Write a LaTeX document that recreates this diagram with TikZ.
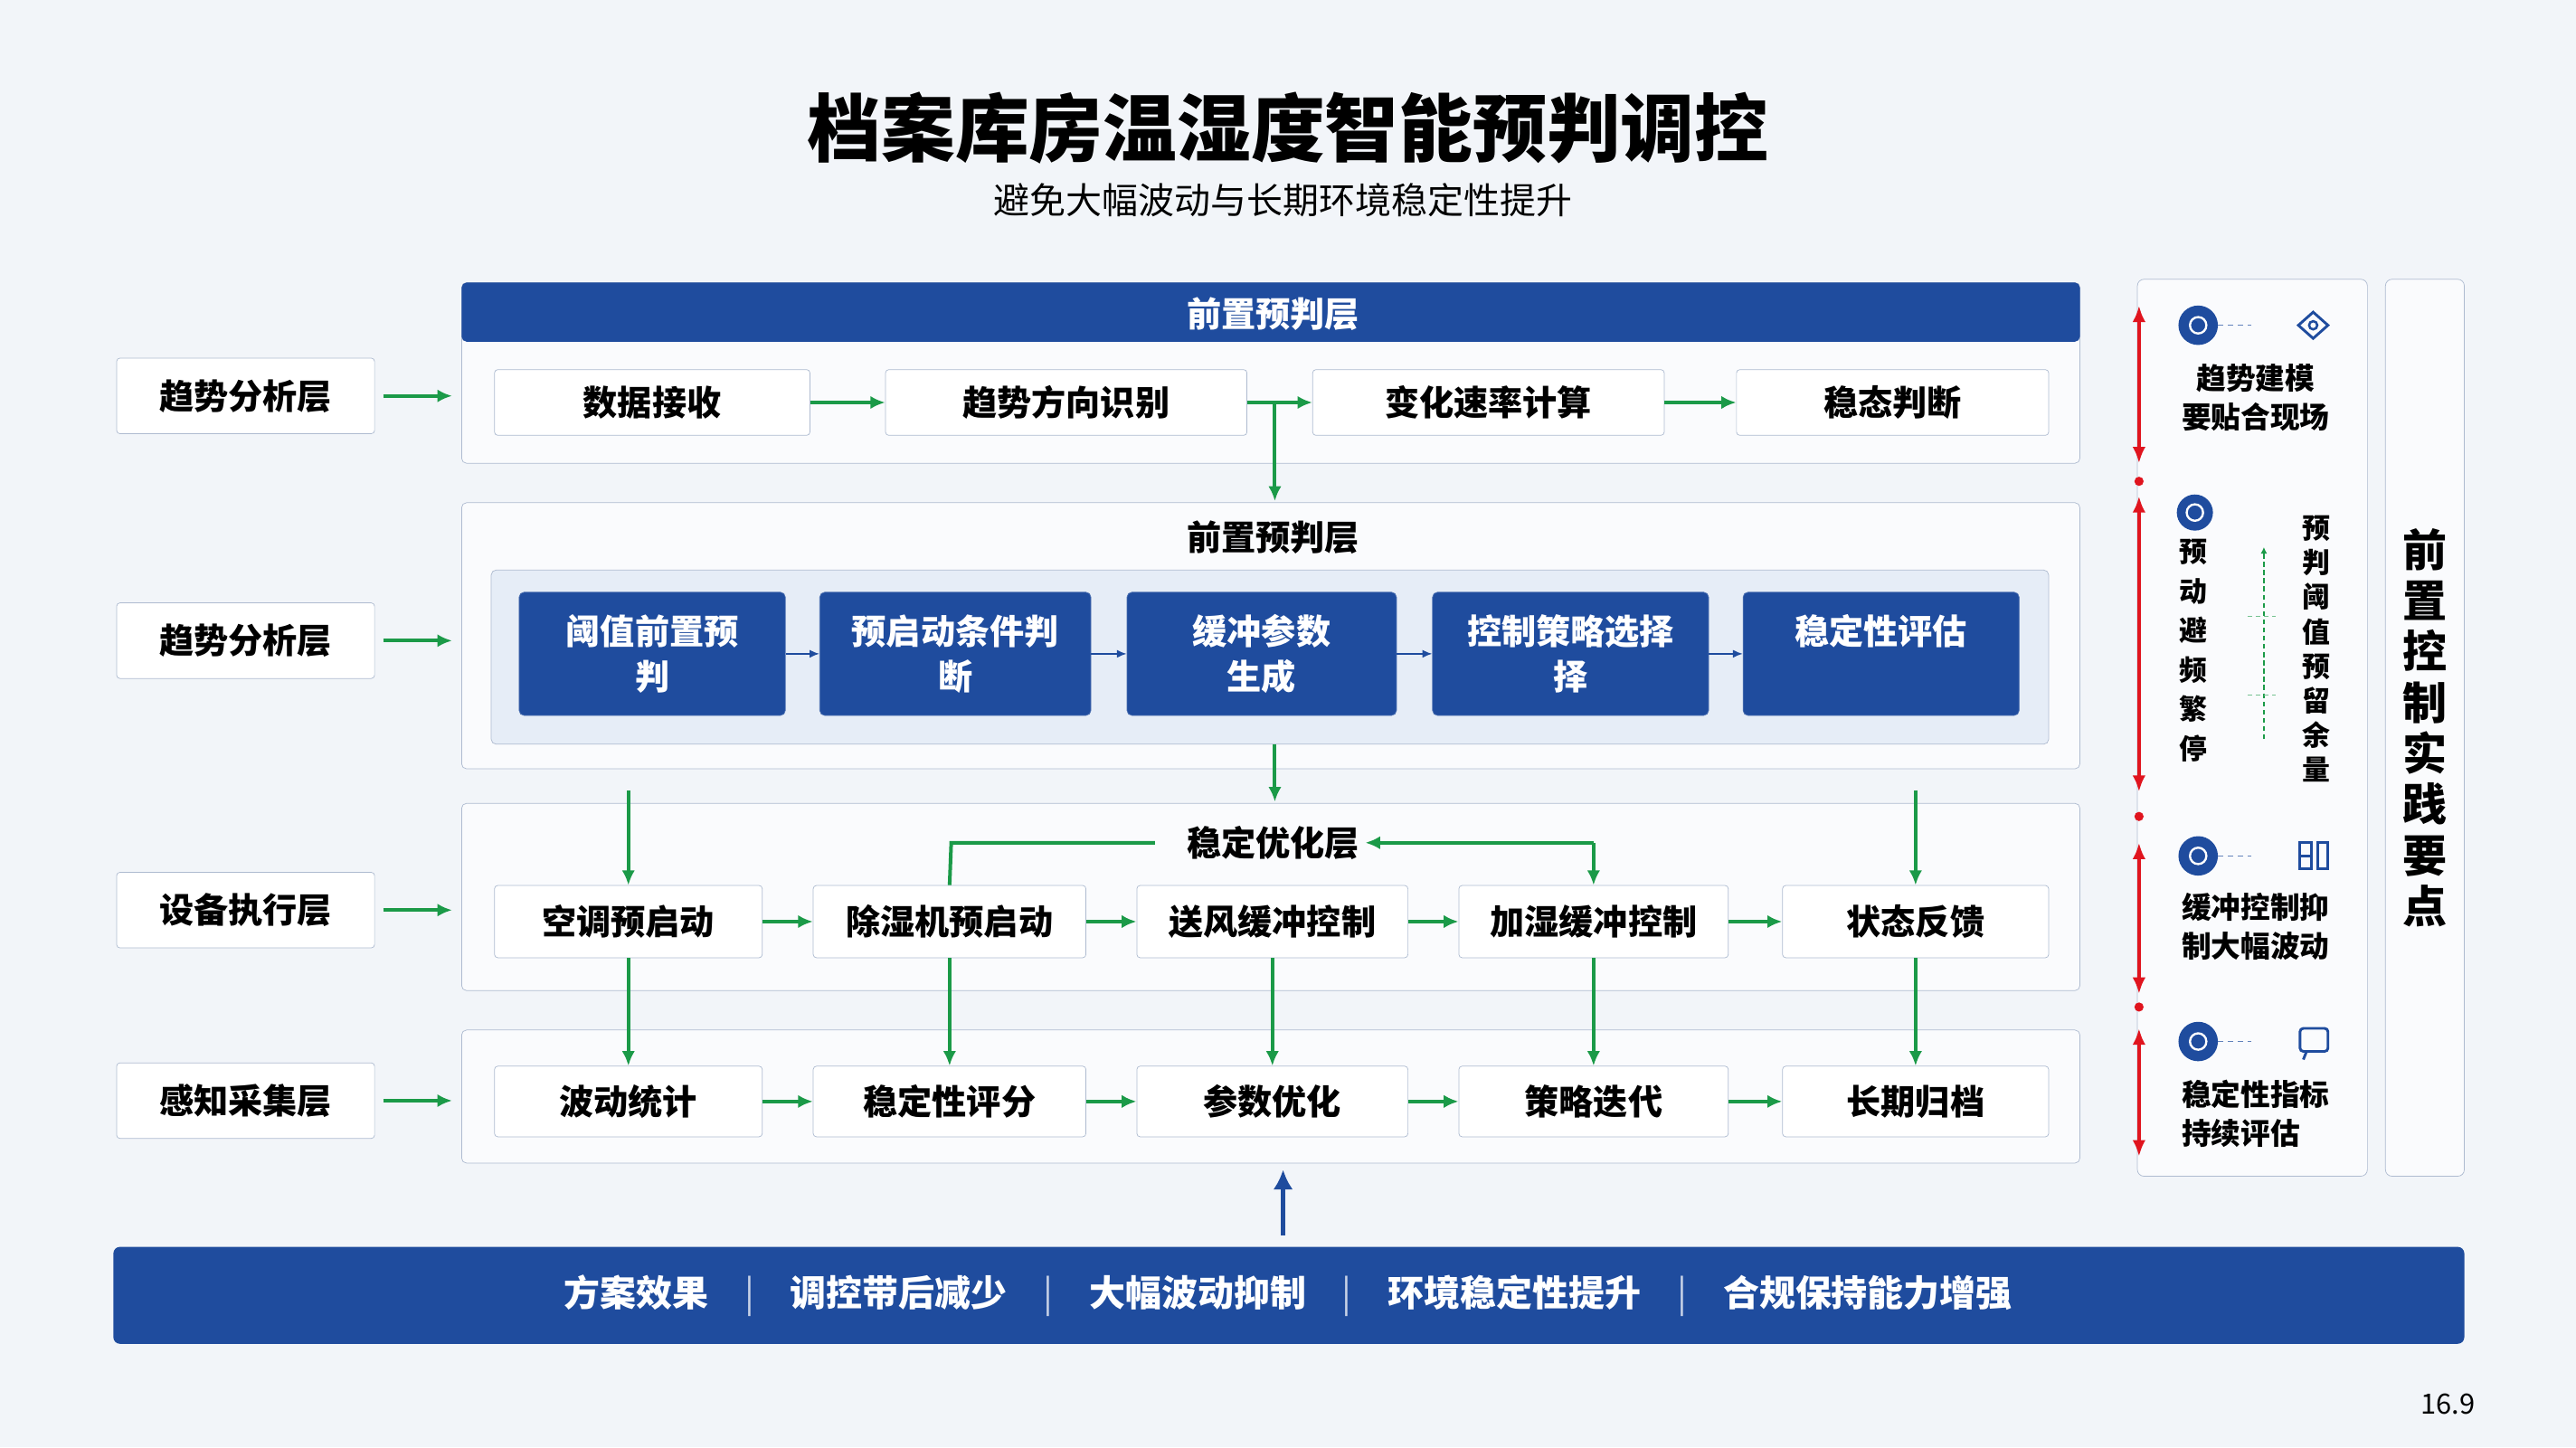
\documentclass[tikz,border=0pt]{standalone}
\usepackage{fontspec}
\setmainfont{Noto Sans CJK SC}
\usetikzlibrary{arrows.meta, positioning}
\definecolor{navy}{HTML}{1F4C9E}
\definecolor{frame}{HTML}{AEBBD0}
\definecolor{okgreen}{HTML}{1B9A48}
\definecolor{paper}{HTML}{F2F5F9}
\definecolor{pale}{HTML}{E6EDF7}
\definecolor{alarm}{HTML}{E0141E}
\newcommand\fs[1]{\fontsize{#1}{1.3\dimexpr#1pt\relax}\selectfont\bfseries}
\newcommand\fsv[2]{\fontsize{#1}{#2}\selectfont\bfseries}
\tikzset{
  box/.style={draw=frame, fill=white, rounded corners=2, minimum height=40, inner sep=0, font=\fs{21}},
  side/.style={box, minimum width=157, minimum height=46},
  stage/.style={draw=navy!80, fill=navy, rounded corners=3, text=white, minimum height=75, inner sep=0,
    font=\fs{21}, align=center, anchor=center},
  panel/.style={draw=frame, fill=white!60!paper, rounded corners=3, minimum width=985, inner sep=0},
  flow/.style={-{Latex[length=9,width=8]}, okgreen, line width=2.2},
  thin/.style={-{Latex[length=6,width=5]}, navy, line width=1},
  span/.style={{Latex[length=10,width=8]}-{Latex[length=10,width=8]}, alarm, line width=2},
  pin/.style={circle, fill=navy, minimum size=24, inner sep=0},
}
\begin{document}
\begin{tikzpicture}[x=1pt, y=-1pt]
  \fill[paper] (0,0) rectangle (1568,881);
  \useasboundingbox (0,0) rectangle (1568,881);
  % title
  \node (title) at (784,78) {\fs{45}档案库房温湿度智能预判调控};
  \node (subtitle) at (781,122) {\fontsize{22}{22}\selectfont 避免大幅波动与长期环境稳定性提升};

  % containers
  \node[panel, minimum height=110] (c1) at (773.5,227) {};
  \fill[navy, rounded corners=3] (281,172) rectangle (1266,208);
  \node[text=white, font=\fs{21}] (h1) at (775,191) {前置预判层};
  \node[panel, minimum height=162] (c2) at (773.5,387) {};
  \node[font=\fs{21}] (h2) at (775,327) {前置预判层};
  \node[draw=frame, fill=pale, rounded corners=3, minimum width=948, minimum height=106, inner sep=0] (c2in) at (773,400) {};
  \node[panel, minimum height=114] (c3) at (773.5,546) {};
  \node[font=\fs{21}] (h3) at (775,513) {稳定优化层};
  \node[panel, minimum height=81] (c4) at (773.5,667.5) {};

  % left layer labels
  \node[side] (l1) at (149.5,241) {趋势分析层};
  \node[side] (l2) at (149.5,390) {趋势分析层};
  \node[side] (l3) at (149.5,554) {设备执行层};
  \node[side] (l4) at (149.5,670) {感知采集层};
  \foreach \l in {l1,l2,l3,l4}
    \draw[flow] (\l.east) ++(5,0) -- ++(42,0);

  % layer 1
  \node[box, minimum width=192] (a1) at (397,245) {数据接收};
  \node[box, minimum width=220] (a2) at (649,245) {趋势方向识别};
  \node[box, minimum width=214] (a3) at (906,245) {变化速率计算};
  \node[box, minimum width=190] (a4) at (1152,245) {稳态判断};
  \draw[flow] (a1) -- (a2);
  \draw[flow] (a2) -- (a3);
  \draw[flow] (a3) -- (a4);
  \draw[flow] (776,245) -- (776,305);

  % layer 2
  \node[stage, minimum width=162] (b1) at (397,398) {阈值前置预\\判};
  \node[stage, minimum width=165] (b2) at (581.5,398) {预启动条件判\\断};
  \node[stage, minimum width=164] (b3) at (768,398) {缓冲参数\\生成};
  \node[stage, minimum width=168] (b4) at (956,398) {控制策略选择\\择};
  \node[stage, minimum width=168] (b5) at (1145,398) {稳定性评估\\\phantom{评}};
  \foreach \p/\q in {b1/b2,b2/b3,b3/b4,b4/b5}
    \draw[thin] (\p) -- (\q);
  \draw[flow] (776,453) -- (776,488);

  % layer 3 and 4
  \foreach \n/\x/\w/\t in {d1/382.5/163/空调预启动, d2/578/166/除湿机预启动, d3/774.5/165/送风缓冲控制,
      d4/970/164/加湿缓冲控制, d5/1166/162/状态反馈} {
    \node[box, minimum width=\w, minimum height=44] (\n) at (\x,561) {\t};
  }
  \foreach \n/\x/\w/\t in {e1/382.5/163/波动统计, e2/578/166/稳定性评分, e3/774.5/165/参数优化,
      e4/970/164/策略迭代, e5/1166/162/长期归档} {
    \node[box, minimum width=\w, minimum height=43] (\n) at (\x,670.5) {\t};
  }
  \foreach \i [count=\j from 2] in {1,...,4} {
    \draw[flow] (d\i) -- (d\j);
    \draw[flow] (e\i) -- (e\j);
  }
  \foreach \i in {1,...,5}
    \draw[flow] (d\i) -- (e\i);
  \draw[flow] (d1.north |- 0,481) -- (d1);
  \draw[flow] (d5.north |- 0,481) -- (d5);
  \draw[okgreen, line width=2.2] (d2.north) -- (579,513) -- (703,513);
  \draw[flow] (970,513) -- (d4);
  \draw[flow] (970,513) -- (h3.east);

  % bottom band
  \draw[-{Latex[length=12,width=12]}, navy, line width=3] (781,752) -- (781,712);
  \fill[navy, rounded corners=4] (69,759) rectangle (1500,818);
  \node[text=white, font=\fs{22}] (band) at (784,788.5)
    {方案效果\quad{\color{white!75!navy}\fontseries{m}\selectfont|}\quad
     调控带后减少\quad{\color{white!75!navy}\fontseries{m}\selectfont|}\quad
     大幅波动抑制\quad{\color{white!75!navy}\fontseries{m}\selectfont|}\quad
     环境稳定性提升\quad{\color{white!75!navy}\fontseries{m}\selectfont|}\quad
     合规保持能力增强};

  % right panel
  \node[draw=frame, fill=white!60!paper, rounded corners=4, minimum width=140, minimum height=546, inner sep=0] (rp) at (1371,443) {};
  \node[draw=frame, fill=white!60!paper, rounded corners=4, minimum width=48, minimum height=546, inner sep=0] (rv) at (1476,443) {};
  \node[font=\fsv{27}{31}, align=center] (rvt) at (1476,443) {前\\置\\控\\制\\实\\践\\要\\点};
  \draw[span] (1302,186) -- (1302,282);
  \draw[span] (1302,302) -- (1302,482);
  \draw[span] (1302,513) -- (1302,605);
  \draw[span] (1302,626) -- (1302,704);
  \foreach \y in {293,497,613}
    \fill[alarm] (1302,\y) circle (2.8);
  \node[pin] (p1) at (1338,198) {};
  \node[pin, minimum size=22] (p2) at (1336,312) {};
  \node[pin] (p3) at (1338,521) {};
  \node[pin] (p4) at (1338,634) {};
  \foreach \p in {p1,p2,p3,p4}
    \draw[white, line width=1.3] (\p) circle (5);
  \foreach \p in {p1,p3,p4}
    \draw[navy!70, dashed, line width=0.8] (\p.east) ++(0,0) -- ++(20,0);
  \draw[navy, line width=1.6] (1399,198) -- (1408,190) -- (1417,198) -- (1408,206) -- cycle;
  \draw[navy, line width=1.4] (1408,198) circle (2.5);
  \draw[navy, line width=1.6] (1400,513) rectangle (1407,529) (1411,513) rectangle (1417,529) (1400,521) -- (1407,521);
  \draw[navy, line width=1.6, rounded corners=2] (1400,626) rectangle (1417,640) (1404,640) -- (1402,645);
  \node[font=\fs{18}, align=center] (t1) at (1373,242) {趋势建模\\要贴合现场};
  \node[font=\fs{18}, align=center] (t3) at (1373,564) {缓冲控制抑\\制大幅波动};
  \node[font=\fs{18}, align=left] (t4) at (1373,678) {稳定性指标\\持续评估};
  \node[font=\fsv{17}{24}, align=center, inner sep=0] (t2a) at (1335,396) {预\\动\\避\\频\\繁\\停};
  \node[font=\fsv{17}{21}, align=center, inner sep=0] (t2b) at (1410,395) {预\\判\\阈\\值\\预\\留\\余\\量};
  \draw[-{Latex[length=4,width=4]}, okgreen, densely dashed, line width=0.8] (1378,450) -- (1378,333);
  \foreach \y in {375,423}
    \draw[okgreen!60, densely dashed, line width=0.6] (1368,\y) -- (1385,\y);

  \node[font=\fontsize{17}{17}\selectfont] (pg) at (1490,855) {16.9};
\end{tikzpicture}
\end{document}
